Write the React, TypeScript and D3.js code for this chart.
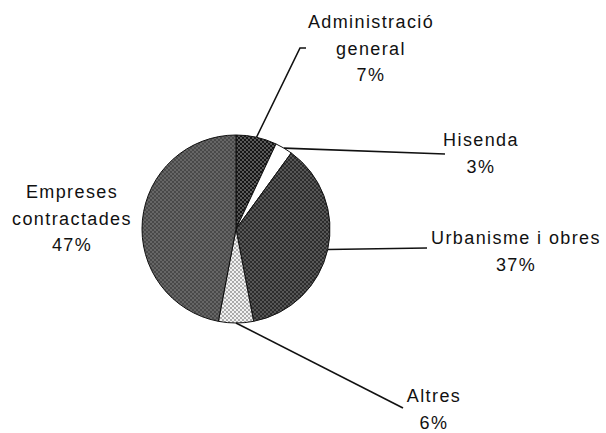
import React from "react";
import * as d3 from "d3";

const categories = ["Administració general", "Hisenda", "Urbanisme i obres", "Altres", "Empreses contractades"];
const values = [7, 3, 37, 6, 47];
const labelLines = [
    ["Administració", "general", "7%"],
    ["Hisenda", "3%"],
    ["Urbanisme i obres", "37%"],
    ["Altres", "6%"],
    ["Empreses", "contractades", "47%"],
];

// layout: where each label sits and where its leader ends (null = no leader)
const labelPos = [
    { x: 371, y: 28, elbow: [300, 48], end: [306, 48] },
    { x: 481, y: 146, elbow: null, end: [445, 154] },
    { x: 516, y: 244, elbow: null, end: [427, 248] },
    { x: 434, y: 402, elbow: null, end: [403, 408] },
    { x: 72, y: 198, elbow: null, end: null },
];

const patterns = [
    { id: "p0", base: "#161616", dot: "#7a7a7a" },
    { id: "p1", base: "#ffffff", dot: "#ffffff" },
    { id: "p2", base: "#2c2c2c", dot: "#6a6a6a" },
    { id: "p3", base: "#f2f2f2", dot: "#8a8a8a" },
    { id: "p4", base: "#666666", dot: "#3a3a3a" },
];

const W = 606;
const H = 433;
const cx = 236;
const cy = 229;
const R = 94;

export default function App() {
    const pie = d3.pie<number>().sort(null).value((d) => d);
    const arcs = pie(values);
    const arc = d3.arc<d3.PieArcDatum<number>>().innerRadius(0).outerRadius(R);
    const lineH = 26.5;

    return (
        <svg
            width={W}
            height={H}
            style={{ position: "absolute", left: 0, top: 0, background: "#fff" }}
            fontFamily="'Liberation Sans', Arial, sans-serif"
        >
            <defs>
                {patterns.map((p) => (
                    <pattern key={p.id} id={p.id} width={4} height={4} patternUnits="userSpaceOnUse">
                        <rect width={4} height={4} fill={p.base} />
                        <circle cx={1} cy={1} r={0.9} fill={p.dot} />
                        <circle cx={3} cy={3} r={0.9} fill={p.dot} />
                    </pattern>
                ))}
            </defs>
            <g transform={`translate(${cx},${cy})`}>
                {arcs.map((a, i) => (
                    <path key={categories[i]} d={arc(a) ?? ""} fill={`url(#${patterns[i].id})`} stroke="#111" strokeWidth={1} />
                ))}
            </g>
            {arcs.map((a, i) => {
                const lp = labelPos[i];
                if (!lp.end) return null;
                const mid = (a.startAngle + a.endAngle) / 2;
                const sx = cx + R * Math.sin(mid);
                const sy = cy - R * Math.cos(mid);
                const pts: [number, number][] = [[sx, sy]];
                if (lp.elbow) pts.push(lp.elbow as [number, number]);
                pts.push(lp.end as [number, number]);
                return (
                    <path
                        key={"l" + i}
                        d={d3.line()(pts) ?? ""}
                        fill="none"
                        stroke="#111"
                        strokeWidth={1.6}
                    />
                );
            })}
            {labelLines.map((lines, i) => (
                <text
                    key={"t" + i}
                    textAnchor="middle"
                    fontSize={18}
                    letterSpacing={1.4}
                    fill="#111"
                >
                    {lines.map((s, j) => (
                        <tspan key={j} x={labelPos[i].x} y={labelPos[i].y + j * lineH}>
                            {s}
                        </tspan>
                    ))}
                </text>
            ))}
        </svg>
    );
}
